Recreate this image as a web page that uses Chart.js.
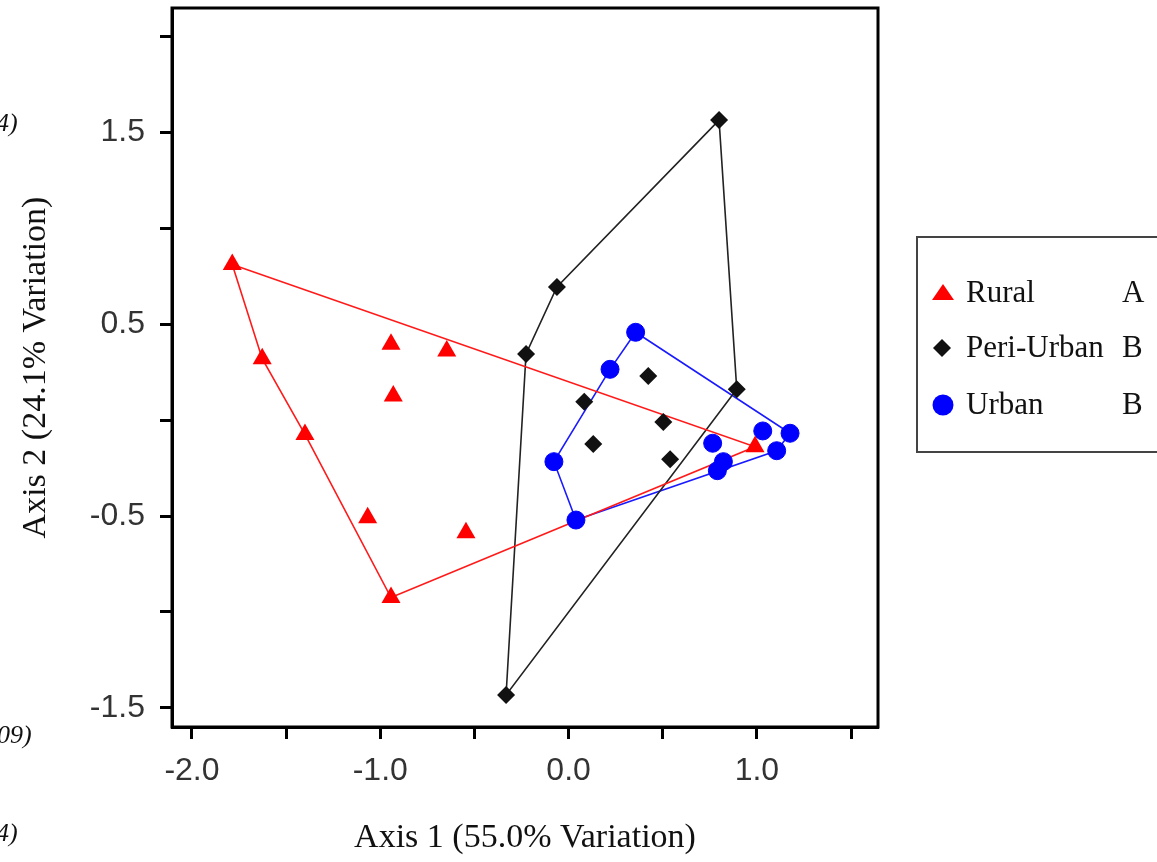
<!DOCTYPE html>
<html>
<head>
<meta charset="utf-8">
<script src="https://cdn.jsdelivr.net/npm/chart.js@4.4.1/dist/chart.umd.min.js"></script>
<style>
  html, body { margin: 0; padding: 0; background: #fff; }
  #wrap { position: relative; width: 1157px; height: 862px; overflow: hidden; }
  .cut { position: absolute; font: italic 26px "Liberation Serif", serif; line-height: 26px; color: #111; white-space: nowrap; }
</style>
</head>
<body>
<div id="wrap">
  <canvas id="pcaChart" width="1157" height="862"></canvas>
  <div class="cut" style="left:-4px; top:110px;">4)</div>
  <div class="cut" style="left:-3px; top:722px;">09)</div>
  <div class="cut" style="left:-4px; top:820px;">4)</div>
</div>
<script>
// PCA scores (Axis 1, Axis 2) per site group
const ruralX = [-1.786, -1.627, -1.400, -1.067, -0.943, -0.943, -0.931, -0.647, -0.545, 0.990];
const ruralY = [0.810, 0.319, -0.075, -0.509, -0.925, 0.394, 0.125, 0.359, -0.587, -0.139];

const periX = [0.799, -0.062, -0.226, 0.083, 0.423, 0.131, 0.503, 0.539, 0.893, -0.332];
const periY = [1.562, 0.693, 0.344, 0.095, 0.229, -0.125, -0.010, -0.205, 0.160, -1.432];

const urbanX = [0.356, 0.220, -0.078, 0.039, 1.031, 1.176, 0.765, 1.105, 0.822, 0.790];
const urbanY = [0.457, 0.264, -0.217, -0.521, -0.057, -0.069, -0.121, -0.160, -0.217, -0.264];

// convex hull outlines, as indices into each group
const ruralHull = [0, 1, 2, 4, 9, 0];
const periHull = [0, 8, 9, 2, 1, 0];
const urbanHull = [0, 5, 7, 3, 2, 1, 0];

const groupNames = ['Rural', 'Peri-Urban', 'Urban'];
const groupLetters = ['A', 'B', 'B'];

const xTickValues = [-2.0, -1.5, -1.0, -0.5, 0.0, 0.5, 1.0, 1.5];
const xTickLabels = ['-2.0', '', '-1.0', '', '0.0', '', '1.0', ''];
const yTickValues = [-1.5, -1.0, -0.5, 0.0, 0.5, 1.0, 1.5, 2.0];
const yTickLabels = ['-1.5', '', '-0.5', '', '0.5', '', '1.5', ''];

const xTitle = 'Axis 1 (55.0% Variation)';
const yTitle = 'Axis 2 (24.1% Variation)';

function toPoints(xs, ys) {
    return xs.map((x, i) => ({ x: x, y: ys[i] }));
}
function toHull(xs, ys, idx) {
    return idx.map(i => ({ x: xs[i], y: ys[i] }));
}

// frame around the plot + legend box on the right
const frameAndLegend = {
    id: 'frameAndLegend',
    afterDraw(chart) {
        const ctx = chart.ctx;
        const a = chart.chartArea;
        ctx.save();
        ctx.strokeStyle = '#000';
        ctx.lineWidth = 3;
        ctx.strokeRect(a.left, a.top, a.right - a.left, a.bottom - a.top);

        ctx.lineWidth = 2;
        ctx.strokeStyle = '#444';
        ctx.strokeRect(917, 237, 260, 215);

        const rows = [293, 348, 405];
        const sx = 942;

        // triangle
        ctx.fillStyle = '#ff0000';
        ctx.beginPath();
        ctx.moveTo(sx + 1, rows[0] - 9);
        ctx.lineTo(sx + 12, rows[0] + 7);
        ctx.lineTo(sx - 10, rows[0] + 7);
        ctx.closePath();
        ctx.fill();

        // diamond
        ctx.fillStyle = '#111';
        ctx.beginPath();
        ctx.moveTo(sx, rows[1] - 9);
        ctx.lineTo(sx + 9, rows[1]);
        ctx.lineTo(sx, rows[1] + 9);
        ctx.lineTo(sx - 9, rows[1]);
        ctx.closePath();
        ctx.fill();

        // circle
        ctx.fillStyle = '#0000ff';
        ctx.beginPath();
        ctx.arc(sx + 1, rows[2], 10.5, 0, Math.PI * 2);
        ctx.fill();

        ctx.fillStyle = '#111';
        ctx.font = '31px "Liberation Serif", serif';
        ctx.textBaseline = 'middle';
        groupNames.forEach((name, i) => {
            ctx.fillText(name, 966, rows[i] + 1);
            ctx.fillText(groupLetters[i], 1122, rows[i] + 1);
        });
        ctx.restore();
    }
};

const ctx = document.getElementById('pcaChart').getContext('2d');

const pcaChart = new Chart(ctx, {
    type: 'scatter',
    data: {
        datasets: [
            {
                label: groupNames[0],
                data: toPoints(ruralX, ruralY),
                pointStyle: 'triangle',
                pointRadius: 11,
                backgroundColor: '#ff0000',
                borderColor: '#ff0000',
                borderWidth: 0,
                order: 0
            },
            {
                label: groupNames[1],
                data: toPoints(periX, periY),
                pointStyle: 'rectRot',
                pointRadius: 9,
                backgroundColor: '#111',
                borderColor: '#111',
                borderWidth: 0,
                order: 0
            },
            {
                label: groupNames[2],
                data: toPoints(urbanX, urbanY),
                pointStyle: 'circle',
                pointRadius: 9,
                backgroundColor: '#0000ff',
                borderColor: '#0000ff',
                borderWidth: 1,
                order: 0
            },
            {
                label: 'Rural hull',
                data: toHull(ruralX, ruralY, ruralHull),
                showLine: true,
                pointRadius: 0,
                borderColor: '#ff1a1a',
                borderWidth: 1.6,
                tension: 0,
                order: 1
            },
            {
                label: 'Peri-Urban hull',
                data: toHull(periX, periY, periHull),
                showLine: true,
                pointRadius: 0,
                borderColor: '#222',
                borderWidth: 1.6,
                tension: 0,
                order: 1
            },
            {
                label: 'Urban hull',
                data: toHull(urbanX, urbanY, urbanHull),
                showLine: true,
                pointRadius: 0,
                borderColor: '#1a1aff',
                borderWidth: 1.6,
                tension: 0,
                order: 1
            }
        ]
    },
    options: {
        responsive: false,
        animation: false,
        layout: {
            autoPadding: false,
            padding: { top: 8, right: 279, left: 0, bottom: 0 }
        },
        plugins: {
            legend: { display: false },
            tooltip: { enabled: false }
        },
        scales: {
            x: {
                type: 'linear',
                min: -2.106,
                max: 1.643,
                afterBuildTicks: s => { s.ticks = xTickValues.map(v => ({ value: v })); },
                afterFit: s => {
                    s.height = 135;
                    s.paddingLeft = 0;
                    s.paddingRight = 0;
                },
                grid: { drawOnChartArea: false, drawTicks: true, tickLength: 12, tickWidth: 3, tickColor: '#000' },
                border: { display: true, color: '#000', width: 3 },
                ticks: {
                    callback: (v, i) => xTickLabels[i],
                    font: { family: 'Liberation Sans', size: 32 },
                    color: '#333',
                    padding: 13,
                    maxRotation: 0,
                    autoSkip: false
                },
                title: {
                    display: true,
                    text: xTitle,
                    font: { family: 'Liberation Serif', size: 34 },
                    color: '#111',
                    padding: { top: 0, bottom: 4 }
                }
            },
            y: {
                type: 'linear',
                min: -1.599,
                max: 2.146,
                afterBuildTicks: s => { s.ticks = yTickValues.map(v => ({ value: v })); },
                afterFit: s => {
                    s.width = 172;
                    s.paddingTop = 0;
                    s.paddingBottom = 0;
                },
                grid: { drawOnChartArea: false, drawTicks: true, tickLength: 12, tickWidth: 3, tickColor: '#000' },
                border: { display: true, color: '#000', width: 3 },
                ticks: {
                    callback: (v, i) => yTickLabels[i],
                    font: { family: 'Liberation Sans', size: 32 },
                    color: '#333',
                    padding: 15,
                    autoSkip: false
                },
                title: {
                    display: true,
                    text: yTitle,
                    font: { family: 'Liberation Serif', size: 34 },
                    color: '#111',
                    padding: { top: 16, bottom: 0 }
                }
            }
        }
    },
    plugins: [frameAndLegend]
});
</script>
</body>
</html>
